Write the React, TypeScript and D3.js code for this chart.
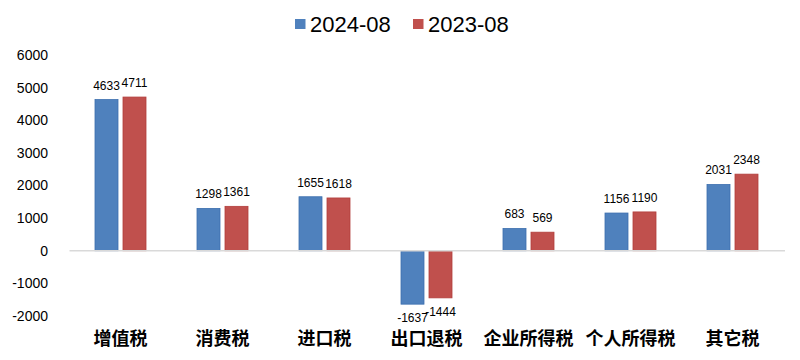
import React from "react";
import * as d3 from "d3";

const categories = ["增值税", "消费税", "进口税", "出口退税", "企业所得税", "个人所得税", "其它税"];
const seriesNames = ["2024-08", "2023-08"];
const values2024 = [4633, 1298, 1655, -1637, 683, 1156, 2031];
const values2023 = [4711, 1361, 1618, -1444, 569, 1190, 2348];
const yTicks = [-2000, -1000, 0, 1000, 2000, 3000, 4000, 5000, 6000];
const colors = ["#4F81BD", "#C0504D"];
const strokes = ["#3C6FAE", "#B23E3B"];

export default function App() {
  const W = 800, H = 360;
  const x = d3.scaleBand<string>().domain(categories).range([69.5, 783.5]).paddingInner(0.5).paddingOuter(0.25);
  const xs = d3.scaleBand<string>().domain(seriesNames).range([0, x.bandwidth()]).paddingInner(5 / 28);
  const y = d3.scaleLinear().domain([-2000, 6000]).range([316, 55]);
  const series = [values2024, values2023];
  const font = "'Liberation Sans', Arial, sans-serif";
  return (
    <svg width={W} height={H} style={{ position: "absolute", left: 0, top: 0, background: "#fff" }}>
      {/* legend */}
      {seriesNames.map((s, i) => {
        const lx = i === 0 ? 295 : 413;
        return (
          <g key={s}>
            <rect x={lx} y={19} width={10.5} height={10} fill={colors[i]} />
            <text x={lx + 15} y={32} fontFamily={font} fontSize={22} fill="#000">{s}</text>
          </g>
        );
      })}
      {/* y axis labels */}
      {yTicks.map((t) => (
        <text key={t} x={48} y={y(t)} dy="0.35em" textAnchor="end" fontFamily={font} fontSize={14} fill="#000">{t}</text>
      ))}
      {/* bars */}
      {categories.map((c, ci) => (
        <g key={c}>
          {series.map((vals, si) => {
            const v = vals[ci];
            const bx = (x(c) as number) + (xs(seriesNames[si]) as number);
            const bw = xs.bandwidth();
            const top = Math.min(y(v), y(0));
            const h = Math.abs(y(v) - y(0));
            return (
              <g key={si}>
                <rect x={bx} y={top} width={bw} height={h} fill={colors[si]} stroke={strokes[si]} strokeWidth={0.8} />
                <text x={bx + bw / 2} y={v >= 0 ? y(v) - 10 : y(v) + 18} textAnchor="middle" fontFamily={font} fontSize={12} fill="#000">{v}</text>
              </g>
            );
          })}
        </g>
      ))}
      {/* zero line */}
      <line x1={69.5} x2={785} y1={y(0)} y2={y(0)} stroke="#D9D9D9" strokeWidth={1.5} />
      {/* category labels */}
      {categories.map((c) => (
        <text key={c} x={(x(c) as number) + x.bandwidth() / 2} y={345} textAnchor="middle" fontFamily="'Noto Sans CJK SC', sans-serif" fontWeight="bold" fontSize={18} fill="#000">{c}</text>
      ))}
    </svg>
  );
}
